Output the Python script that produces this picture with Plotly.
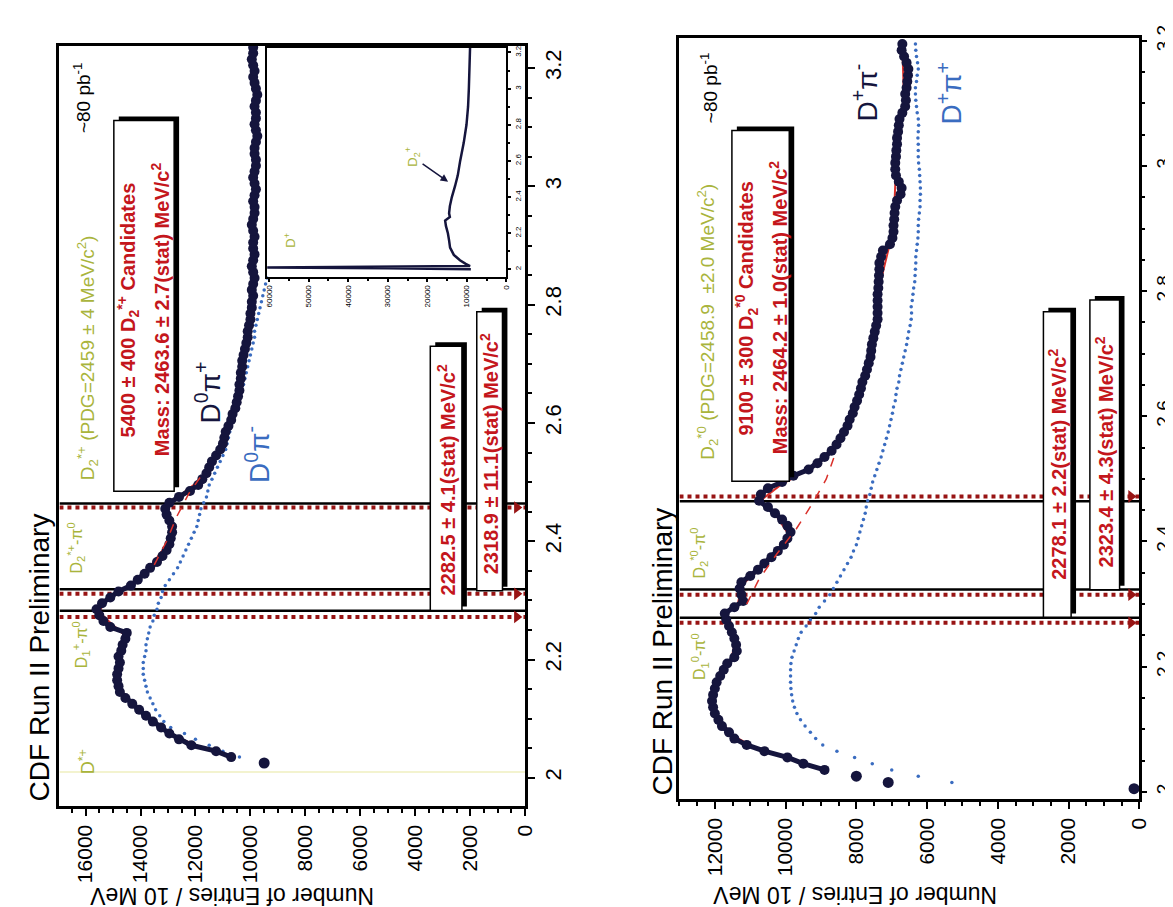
import plotly.graph_objects as go

W, H = 1173, 907
FONT = "Liberation Sans, Arial, Helvetica, sans-serif"

NAVY = "#15153d"
BLUE = "#3a6cc0"
RED_TEXT = "#c4161c"
FIT_RED = "#d9302a"
DOT_RED = "#981414"
OLIVE = "#a9b43c"

BIN_WIDTH = 0.01  # 10 MeV bins (GeV/c^2)

# ---------------- upper histogram (D0 pi+ / D0 pi-) -> left panel ----------------
L_EDGE_MASS = [2.025]
L_EDGE_COUNTS = [9500]
L_SIG_START = 2.035
L_SIG_COUNTS = [
    10700, 11250, 12150, 12600, 12950, 13250, 13550, 13800, 14050, 14300,
    14550, 14750, 14800, 14850, 14850, 14800, 14750, 14800, 14700, 14650,
    14550, 14500, 15100, 15350, 15500, 15600, 15400, 15100, 14800, 14350,
    14100, 13850, 13650, 13400, 13200, 13050, 12950, 12900, 12850, 12850,
    12950, 13050, 13100, 12950, 12600, 12200, 11900, 11750, 11600, 11500,
    11400, 11250, 11100, 11000, 10950, 10900, 10800, 10700, 10650, 10550,
    10500, 10450, 10400, 10400, 10350, 10350, 10300, 10300, 10250, 10200,
    10150, 10100, 10100, 10050, 10000, 10000, 9950, 9950, 9900, 9950,
    9900, 9850, 9900, 9950, 9900, 9850, 9900, 9900, 9850, 9900,
    9950, 9900, 9850, 9850, 9900, 9850, 9800, 9850, 9900, 9850,
    9800, 9800, 9850, 9850, 9800, 9750, 9800, 9850, 9800, 9800,
    9850, 9800, 9750, 9800, 9850, 9900, 9850, 9900, 9950, 9900,
    9900]
L_BKG_START = 2.035
L_BKG_COUNTS = [
    10400, 11000, 11500, 12000, 12400, 12900, 13150, 13300, 13450, 13550,
    13650, 13750, 13800, 13850, 13900, 13900, 13900, 13850, 13800, 13800,
    13750, 13700, 13650, 13550, 13500, 13400, 13350, 13250, 13200, 13100,
    12950, 12800, 12650, 12550, 12450, 12350, 12250, 12150, 12050, 11950,
    11900, 11850, 11800, 11700, 11600, 11550, 11500, 11400, 11300, 11200,
    11100, 11000, 10900, 10850, 10800, 10750, 10700, 10650, 10600, 10550,
    10450, 10400, 10350, 10250, 10200, 10150, 10100, 10050, 10000, 9950,
    9900, 9850, 9850, 9800, 9750, 9700, 9650, 9600, 9550, 9500,
    9450, 9400]
L_FIT_MASS = [2.035, 2.05, 2.07, 2.09, 2.12, 2.15, 2.18, 2.21, 2.24, 2.26, 2.28, 2.30,
              2.33, 2.36, 2.40, 2.43, 2.455, 2.48, 2.51, 2.55, 2.60, 2.65, 2.70, 2.75,
              2.80, 2.85]
L_FIT_COUNTS = [10650, 11700, 12750, 13400, 14200, 14750, 14820, 14750, 14550, 15050,
                15500, 15300, 14250, 13600, 12950, 12900, 13080, 12500, 11650, 11180,
                10720, 10420, 10300, 10100, 9950, 9900]
L_BG_MASS = [2.36, 2.40, 2.44, 2.48, 2.52]
L_BG_COUNTS = [13500, 13050, 12700, 12250, 11650]
L_DSTAR_MASS = 2.010
L_LINE_MASS = [2.2825, 2.3189, 2.4636]
L_ARROW_MASS = [2.272, 2.311, 2.457]
L_XMAX = 16950

INSET_MASS = [2.000, 2.006, 2.0095, 2.013, 2.018, 2.03, 2.05, 2.08, 2.12, 2.16, 2.20,
              2.24, 2.27, 2.29, 2.31, 2.35, 2.40, 2.46, 2.52, 2.60, 2.70, 2.80, 2.90,
              3.00, 3.10, 3.20, 3.225]
INSET_COUNTS = [9000, 30000, 60500, 30000, 9200, 10300, 11750, 13300, 14250, 14500, 14800,
                15300, 15500, 14300, 14500, 14300, 13800, 13000, 12300, 11700, 10800,
                10100, 9700, 9500, 9350, 9250, 9200]

# ---------------- lower histogram (D+ pi- / D+ pi+) -> right panel ----------------
R_EDGE_MASS = [2.005, 2.015, 2.025]
R_EDGE_COUNTS = [150, 7100, 8000]
R_SIG_START = 2.035
R_SIG_COUNTS = [
    8900, 9500, 9950, 10600, 11100, 11450, 11600, 11800, 11900, 12000,
    12050, 12080, 12050, 12000, 11950, 11850, 11750, 11650, 11450, 11380,
    11400, 11450, 11520, 11600, 11680, 11720, 11450, 11200, 11250, 11300,
    11250, 11000, 10780, 10600, 10400, 10220, 10050, 9950, 9860, 9950,
    10100, 10300, 10500, 10750, 10700, 10500, 10100, 9780, 9350, 9100,
    8900, 8700, 8560, 8450, 8350, 8250, 8190, 8100, 8050, 7980,
    7920, 7870, 7830, 7750, 7700, 7650, 7600, 7580, 7560, 7520,
    7480, 7440, 7400, 7400, 7400, 7400, 7400, 7380, 7370, 7360,
    7350, 7350, 7300, 7250, 7050, 6980, 6950, 6950, 6930, 6920,
    6900, 6850, 6750, 6720, 6800, 6880, 6900, 6900, 6880, 6870,
    6850, 6850, 6820, 6800, 6780, 6700, 6620, 6600, 6620, 6580,
    6560, 6540, 6530, 6580, 6650, 6720, 6700]
R_BKG_START = 2.015
R_BKG_COUNTS = [
    5300, 6250, 7000, 7550, 8050, 8550, 8950, 9150, 9300, 9450,
    9580, 9680, 9750, 9800, 9830, 9850, 9860, 9860, 9860, 9850,
    9820, 9760, 9700, 9640, 9560, 9420, 9300, 9150, 9050, 8900,
    8750, 8650, 8550, 8450, 8350, 8250, 8150, 8080, 8000, 7950,
    7900, 7850, 7800, 7750, 7720, 7680, 7620, 7580, 7540, 7480,
    7420, 7360, 7300, 7250, 7200, 7150, 7100, 7060, 7020, 6980,
    6950, 6900, 6880, 6850, 6800, 6780, 6740, 6700, 6660, 6620,
    6580, 6550, 6520, 6480, 6450, 6440, 6450, 6420, 6400, 6380,
    6350, 6340, 6330, 6320, 6320, 6300, 6280, 6260, 6250, 6250,
    6240, 6220, 6200, 6200, 6190, 6190, 6200, 6210, 6220, 6240,
    6250, 6250, 6250, 6260, 6250, 6240, 6250, 6280, 6300, 6320,
    6330, 6330, 6300, 6280, 6250, 6270, 6300, 6320, 6330]
R_FIT_MASS = [2.035, 2.05, 2.07, 2.09, 2.12, 2.15, 2.18, 2.21, 2.24, 2.265, 2.285, 2.30,
              2.33, 2.37, 2.41, 2.44, 2.465, 2.49, 2.52, 2.56, 2.62, 2.70, 2.80, 2.90,
              3.00, 3.10, 3.19]
R_FIT_COUNTS = [8900, 9750, 10850, 11500, 11950, 12070, 11900, 11550, 11420, 11600,
                11700, 11350, 11250, 10450, 9900, 10250, 10720, 10150, 9200, 8500,
                8000, 7580, 7380, 6950, 6880, 6650, 6700]
R_BG_MASS = [2.30, 2.34, 2.38, 2.42, 2.46, 2.50, 2.54]
R_BG_COUNTS = [11100, 10750, 10250, 9700, 9250, 8850, 8600]
R_LINE_MASS = [2.2781, 2.3234, 2.4642]
R_ARROW_MASS = [2.270, 2.315, 2.472]
R_XMAX = 13000


def bins(start, n):
    return [round(start + BIN_WIDTH * i, 3) for i in range(n)]


fig = go.Figure()


def add_panel(xa, ya, xmax, line_mass, arrow_mass, fit_m, fit_c, bg_m, bg_c,
              edge_m, edge_c, sig_start, sig_c, bkg_start, bkg_c):
    for m in line_mass:
        fig.add_trace(go.Scatter(x=[xmax, 0], y=[m, m], mode="lines", xaxis=xa, yaxis=ya,
                                 line=dict(color="black", width=2.5), hoverinfo="skip"))
    for m in arrow_mass:
        fig.add_trace(go.Scatter(x=[xmax, 0], y=[m, m], mode="lines", xaxis=xa, yaxis=ya,
                                 line=dict(color=DOT_RED, width=4, dash="dot"), hoverinfo="skip"))
        fig.add_trace(go.Scatter(x=[xmax * 0.018], y=[m], mode="markers", xaxis=xa, yaxis=ya,
                                 marker=dict(symbol="triangle-right", size=11, color=DOT_RED)))
    fig.add_trace(go.Scatter(x=bkg_c, y=bins(bkg_start, len(bkg_c)), mode="markers",
                             xaxis=xa, yaxis=ya,
                             marker=dict(size=3.5, color=BLUE)))
    fig.add_trace(go.Scatter(x=fit_c, y=fit_m, mode="lines", xaxis=xa, yaxis=ya,
                             line=dict(color=FIT_RED, width=2)))
    fig.add_trace(go.Scatter(x=sig_c, y=bins(sig_start, len(sig_c)), mode="lines+markers",
                             xaxis=xa, yaxis=ya,
                             line=dict(color=NAVY, width=5),
                             marker=dict(size=10, color=NAVY)))
    fig.add_trace(go.Scatter(x=edge_c, y=edge_m, mode="markers", xaxis=xa, yaxis=ya,
                             marker=dict(size=11, color=NAVY)))
    fig.add_trace(go.Scatter(x=bg_c, y=bg_m, mode="lines", xaxis=xa, yaxis=ya,
                             line=dict(color=FIT_RED, width=1.5, dash="dash")))


# faint D*+ marker line in the left panel
fig.add_trace(go.Scatter(x=[L_XMAX, 0], y=[L_DSTAR_MASS, L_DSTAR_MASS], mode="lines",
                         xaxis="x", yaxis="y", line=dict(color="#f3f3cf", width=2)))

add_panel("x", "y", L_XMAX, L_LINE_MASS, L_ARROW_MASS, L_FIT_MASS, L_FIT_COUNTS,
          L_BG_MASS, L_BG_COUNTS, L_EDGE_MASS, L_EDGE_COUNTS,
          L_SIG_START, L_SIG_COUNTS, L_BKG_START, L_BKG_COUNTS)
add_panel("x2", "y2", R_XMAX, R_LINE_MASS, R_ARROW_MASS, R_FIT_MASS, R_FIT_COUNTS,
          R_BG_MASS, R_BG_COUNTS, R_EDGE_MASS, R_EDGE_COUNTS,
          R_SIG_START, R_SIG_COUNTS, R_BKG_START, R_BKG_COUNTS)

# inset
fig.add_trace(go.Scatter(x=INSET_COUNTS, y=INSET_MASS, mode="lines", xaxis="x3", yaxis="y3",
                         line=dict(color=NAVY, width=2.5)))


def px(x):
    return x / W


def py(y):
    return 1 - y / H


def count_axis(dom_x0, dom_x1, xmax, anchor, fsize=21, dtick=2000, minor=500, tl=8, lw=2.5):
    return dict(domain=[px(dom_x0), px(dom_x1)], range=[xmax, 0], anchor=anchor,
                side="bottom", showgrid=False, zeroline=False,
                showline=True, mirror=True, linecolor="black", linewidth=lw,
                ticks="outside", ticklen=tl, tickwidth=2, tickcolor="black",
                tickmode="linear", tick0=0, dtick=dtick, tickformat="d",
                tickangle=-90, tickfont=dict(family=FONT, size=fsize, color="black"),
                minor=dict(dtick=minor, tick0=0, ticks="outside", ticklen=tl * 0.55,
                           tickwidth=1.5, tickcolor="black"))


def mass_axis(dom_y0, dom_y1, rng, anchor, fsize=22, minor=0.05, tl=9, lw=2.5, standoff=0):
    return dict(domain=[py(dom_y1), py(dom_y0)], range=rng, anchor=anchor,
                side="right", showgrid=False, zeroline=False,
                showline=True, mirror=True, linecolor="black", linewidth=lw,
                ticks="outside", ticklen=tl, tickwidth=2, tickcolor="black",
                tickmode="linear", tick0=2, dtick=0.2, ticklabelstandoff=standoff,
                tickangle=-90, tickfont=dict(family=FONT, size=fsize, color="black"),
                minor=dict(dtick=minor, tick0=2, ticks="outside", ticklen=tl * 0.55,
                           tickwidth=1.5, tickcolor="black"))


def label(text, x, y, size, color, angle=-90):
    return dict(text=text, x=px(x), y=py(y), xref="paper", yref="paper", showarrow=False,
                textangle=angle, xanchor="center", yanchor="middle",
                font=dict(family=FONT, size=size, color=color))


def box(x0, y0, x1, y1):
    return [dict(type="rect", xref="paper", yref="paper", layer="above",
                 x0=px(x0 + 5), x1=px(x1 + 5), y0=py(y1 - 4), y1=py(y0 - 4),
                 fillcolor="black", line=dict(width=0)),
            dict(type="rect", xref="paper", yref="paper", layer="above",
                 x0=px(x0), x1=px(x1), y0=py(y1), y1=py(y0),
                 fillcolor="white", line=dict(color="black", width=1.5))]


shapes = []
for b in [(105, 101, 166, 477), (425, 330, 457, 598), (472, 295, 498, 578),
          (730, 111, 788, 467), (1045, 295, 1073, 605), (1092, 283, 1122, 577)]:
    shapes += box(*b)

annotations = [
    # left panel
    label("CDF Run II Preliminary", 30, 646, 28, "black"),
    label("~80 pb<sup>-1</sup>", 73, 78, 19, "black"),
    label("D<sub>2</sub><sup>*+</sup> (PDG=2459 ± 4 MeV/c<sup>2</sup>)", 78, 342, 19, OLIVE),
    label("D<sub>2</sub><sup>*+</sup>-π<sup>0</sup>", 67, 535, 16, OLIVE),
    label("D<sub>1</sub><sup>+</sup>-π<sup>0</sup>", 72, 633, 16, OLIVE),
    label("D<sup>*+</sup>", 78, 752, 18, OLIVE),
    label("D<sup>0</sup>π<sup>+</sup>", 200, 377, 28, NAVY),
    label("D<sup>0</sup>π<sup>-</sup>", 250, 440, 28, BLUE),
    label("<b>5400 ± 400 D<sub>2</sub><sup>*+</sup> Candidates</b>", 120, 293, 20, RED_TEXT),
    label("<b>Mass: 2463.6 ± 2.7(stat) MeV/c<sup>2</sup></b>", 152, 292, 20, RED_TEXT),
    label("<b>2282.5 ± 4.1(stat) MeV/c<sup>2</sup></b>", 441, 466, 20, RED_TEXT),
    label("<b>2318.9 ± 11.1(stat) MeV/c<sup>2</sup></b>", 485, 439, 20, RED_TEXT),
    label("Number of Entries / 10 MeV", 225, 887, 23, "black", angle=180),
    label("D<sup>+</sup>", 283, 222, 13, OLIVE),
    dict(text="D<sub>2</sub><sup>+</sup>", x=px(443), y=py(163), xref="paper", yref="paper",
         showarrow=True, ax=-36, ay=-25, arrowhead=2, arrowsize=1, arrowwidth=1.5,
         arrowcolor=NAVY, textangle=-90,
         font=dict(family=FONT, size=13, color=OLIVE)),
    # right panel
    label("CDF Run II Preliminary", 660, 640, 28, "black"),
    label("~80 pb<sup>-1</sup>", 707, 68, 19, "black"),
    label("D<sub>2</sub><sup>*0</sup> (PDG=2458.9  ±2.0 MeV/c<sup>2</sup>)", 705, 305, 19, OLIVE),
    label("D<sub>2</sub><sup>*0</sup>-π<sup>0</sup>", 697, 540, 16, OLIVE),
    label("D<sub>1</sub><sup>0</sup>-π<sup>0</sup>", 697, 645, 16, OLIVE),
    label("D<sup>+</sup>π<sup>-</sup>", 865, 72, 28, NAVY),
    label("D<sup>+</sup>π<sup>+</sup>", 950, 73, 28, BLUE),
    label("<b>9100 ± 300 D<sub>2</sub><sup>*0</sup> Candidates</b>", 745, 292, 20, RED_TEXT),
    label("<b>Mass: 2464.2 ± 1.0(stat) MeV/c<sup>2</sup></b>", 777, 290, 20, RED_TEXT),
    label("<b>2278.1 ± 2.2(stat) MeV/c<sup>2</sup></b>", 1059, 450, 20, RED_TEXT),
    label("<b>2323.4 ± 4.3(stat) MeV/c<sup>2</sup></b>", 1107, 437, 20, RED_TEXT),
    label("Number of Entries / 10 MeV", 855, 886, 23, "black", angle=180),
]

fig.update_layout(
    width=W, height=H, margin=dict(l=0, r=0, t=0, b=0),
    paper_bgcolor="white", plot_bgcolor="rgba(0,0,0,0)",
    showlegend=False,
    font=dict(family=FONT, color="black"),
    xaxis=count_axis(50, 521, L_XMAX, "y"),
    yaxis=mass_axis(25, 796, [1.953, 3.238], "x", tl=7, standoff=0),
    xaxis2=count_axis(677, 1142, R_XMAX, "y2"),
    yaxis2=mass_axis(17, 789, [1.989, 3.205], "x2", fsize=19, tl=5, standoff=0),
    xaxis3=count_axis(260, 502, 60500, "y3", fsize=8, dtick=10000, minor=5000, tl=3, lw=1.5),
    yaxis3=mass_axis(27, 260, [1.956, 3.227], "x3", fsize=8, minor=0.1, tl=3, lw=1.5),
    shapes=shapes,
    annotations=annotations,
)

fig.write_html("out.html")
